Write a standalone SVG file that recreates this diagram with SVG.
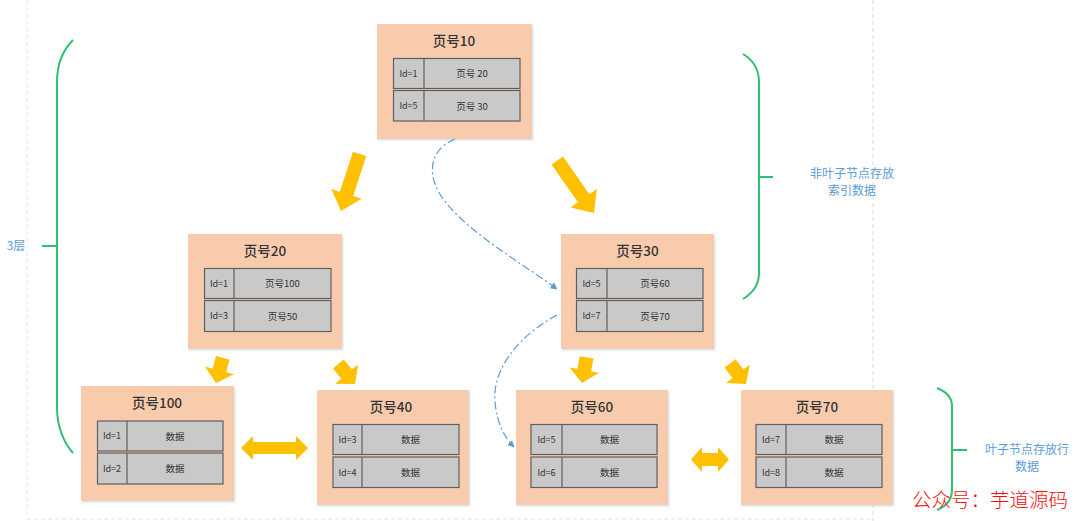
<svg xmlns="http://www.w3.org/2000/svg" width="1080" height="521" viewBox="0 0 1080 521">
<defs>
<style>
.box{fill:#F8CBAD;filter:url(#sh);}
.cell{fill:#C9C9C9;stroke:#5F5F5F;stroke-width:1.2;}
.t{font-family:"Noto Sans CJK SC","Liberation Sans",sans-serif;fill:#333;text-anchor:middle;}
.title{font-size:13.5px;font-weight:500;fill:#333;}
.id{font-size:9px;}
.val{font-size:9.5px;}
.ya{fill:#FFC000;}
.br{fill:none;stroke:#2EC26E;stroke-width:2;}
.lbl{font-family:"Noto Sans CJK SC","Liberation Sans",sans-serif;fill:#5B9BD5;font-size:12px;text-anchor:middle;}
.dl{fill:none;stroke:#5B9BD5;stroke-width:1.2;stroke-dasharray:8 3 2 3;}
</style>
<filter id="sh" x="-5%" y="-5%" width="110%" height="110%">
<feDropShadow dx="1" dy="1.2" stdDeviation="0.8" flood-color="#9fb6d0" flood-opacity="0.5"/>
</filter>
<marker id="ah" viewBox="0 0 10 10" refX="9" refY="5" markerWidth="7" markerHeight="7" orient="auto" markerUnits="userSpaceOnUse">
<path d="M0,0 L10,5 L0,10 Z" fill="#5B9BD5"/>
</marker>
<path id="chunk" d="M-7,-26 H7 V-13 H15 L0,0 L-15,-13 H-7 Z"/>
</defs>
<rect width="1080" height="521" fill="#fff"/>
<g id="frame" fill="none" stroke="#e6e6e6" stroke-width="1" stroke-dasharray="4 3">
<line x1="27" y1="0" x2="27" y2="519"/>
<line x1="27" y1="519" x2="873" y2="519"/>
<line x1="873" y1="0" x2="873" y2="521" stroke="#dcdcdc"/>
</g>

<g id="node-p10">
<rect class="box" x="377" y="24" width="155" height="115"/>
<text class="t title" x="454" y="46">页号10</text>
<rect class="cell" x="393.5" y="58.5" width="126.5" height="30"/>
<line x1="424" y1="58.5" x2="424" y2="88.5" stroke="#5F5F5F" stroke-width="1.2"/>
<rect class="cell" x="393.5" y="90.5" width="126.5" height="30.5"/>
<line x1="424" y1="90.5" x2="424" y2="121" stroke="#5F5F5F" stroke-width="1.2"/>
<text class="t id" x="408.5" y="76.5">Id=1</text>
<text class="t val" x="472" y="77">页号 20</text>
<text class="t id" x="408.5" y="109">Id=5</text>
<text class="t val" x="472" y="109.5">页号 30</text>
</g>

<g id="node-p20">
<rect class="box" x="188" y="234" width="154" height="115"/>
<text class="t title" x="265" y="256">页号20</text>
<rect class="cell" x="204.5" y="268.5" width="126.5" height="30"/>
<line x1="234" y1="268.5" x2="234" y2="298.5" stroke="#5F5F5F" stroke-width="1.2"/>
<rect class="cell" x="204.5" y="300.5" width="126.5" height="31"/>
<line x1="234" y1="300.5" x2="234" y2="331.5" stroke="#5F5F5F" stroke-width="1.2"/>
<text class="t id" x="219" y="286.5">Id=1</text>
<text class="t val" x="282.5" y="287">页号100</text>
<text class="t id" x="219" y="319">Id=3</text>
<text class="t val" x="282.5" y="319.5">页号50</text>
</g>

<g id="node-p30">
<rect class="box" x="561" y="234" width="153" height="115"/>
<text class="t title" x="637.5" y="256">页号30</text>
<rect class="cell" x="576.5" y="268.5" width="126.5" height="30"/>
<line x1="607" y1="268.5" x2="607" y2="298.5" stroke="#5F5F5F" stroke-width="1.2"/>
<rect class="cell" x="576.5" y="300.5" width="126.5" height="31"/>
<line x1="607" y1="300.5" x2="607" y2="331.5" stroke="#5F5F5F" stroke-width="1.2"/>
<text class="t id" x="591.5" y="286.5">Id=5</text>
<text class="t val" x="655" y="287">页号60</text>
<text class="t id" x="591.5" y="319">Id=7</text>
<text class="t val" x="655" y="319.5">页号70</text>
</g>

<g id="node-p100">
<rect class="box" x="81" y="386" width="153" height="115"/>
<text class="t title" x="157" y="408">页号100</text>
<rect class="cell" x="97.5" y="421" width="125.5" height="30"/>
<line x1="127" y1="421" x2="127" y2="451" stroke="#5F5F5F" stroke-width="1.2"/>
<rect class="cell" x="97.5" y="453" width="125.5" height="31"/>
<line x1="127" y1="453" x2="127" y2="484" stroke="#5F5F5F" stroke-width="1.2"/>
<text class="t id" x="112" y="439">Id=1</text>
<text class="t val" x="175" y="439.5">数据</text>
<text class="t id" x="112" y="471.5">Id=2</text>
<text class="t val" x="175" y="472">数据</text>
</g>

<g id="node-p40">
<rect class="box" x="317" y="390" width="152" height="115"/>
<text class="t title" x="391" y="412">页号40</text>
<rect class="cell" x="333" y="424.5" width="126" height="30"/>
<line x1="362" y1="424.5" x2="362" y2="454.5" stroke="#5F5F5F" stroke-width="1.2"/>
<rect class="cell" x="333" y="457" width="126" height="30.5"/>
<line x1="362" y1="457" x2="362" y2="487.5" stroke="#5F5F5F" stroke-width="1.2"/>
<text class="t id" x="347.5" y="442.5">Id=3</text>
<text class="t val" x="410.5" y="443">数据</text>
<text class="t id" x="347.5" y="475.5">Id=4</text>
<text class="t val" x="410.5" y="476">数据</text>
</g>

<g id="node-p60">
<rect class="box" x="516" y="390" width="152" height="115"/>
<text class="t title" x="592" y="412">页号60</text>
<rect class="cell" x="531" y="424.5" width="126" height="30"/>
<line x1="562" y1="424.5" x2="562" y2="454.5" stroke="#5F5F5F" stroke-width="1.2"/>
<rect class="cell" x="531" y="457" width="126" height="30.5"/>
<line x1="562" y1="457" x2="562" y2="487.5" stroke="#5F5F5F" stroke-width="1.2"/>
<text class="t id" x="546.5" y="442.5">Id=5</text>
<text class="t val" x="609.5" y="443">数据</text>
<text class="t id" x="546.5" y="475.5">Id=6</text>
<text class="t val" x="609.5" y="476">数据</text>
</g>

<g id="node-p70">
<rect class="box" x="741" y="390" width="152" height="115"/>
<text class="t title" x="817" y="412">页号70</text>
<rect class="cell" x="756" y="424.5" width="126" height="30"/>
<line x1="786" y1="424.5" x2="786" y2="454.5" stroke="#5F5F5F" stroke-width="1.2"/>
<rect class="cell" x="756" y="457" width="126" height="30.5"/>
<line x1="786" y1="457" x2="786" y2="487.5" stroke="#5F5F5F" stroke-width="1.2"/>
<text class="t id" x="771" y="442.5">Id=7</text>
<text class="t val" x="834" y="443">数据</text>
<text class="t id" x="771" y="475.5">Id=8</text>
<text class="t val" x="834" y="476">数据</text>
</g>

<g id="connectors">
<path class="ya" transform="translate(341,211) rotate(18)" d="M-7,-60 H7 V-18 H16 L0,0 L-16,-18 H-7 Z"/>
<path class="ya" transform="translate(594,213) rotate(-35)" d="M-7,-64 H7 V-18 H16 L0,0 L-16,-18 H-7 Z"/>
<use class="ya" href="#chunk" transform="translate(216,383) rotate(15)"/>
<use class="ya" href="#chunk" transform="translate(355,384) rotate(-40)"/>
<use class="ya" href="#chunk" transform="translate(582,383) rotate(10)"/>
<use class="ya" href="#chunk" transform="translate(746,384) rotate(-38)"/>
<path class="ya" d="M241,448 L253,436 V442 H296 V436 L308,448 L296,460 V454 H253 V460 Z"/>
<path class="ya" d="M691,459.5 L702,447 V453 H718 V447 L729,459.5 L718,472 V466 H702 V472 Z"/>
<path class="dl" marker-end="url(#ah)" d="M455,139 C428,150 425,178 447,204 C474,236 520,262 557,289"/>
<path class="dl" marker-end="url(#ah)" d="M557,315 C520,335 492,368 495,402 C497,424 505,438 514,447"/>
</g>

<g id="brace-levels">
<path class="br" d="M73,40 C63,50 57,65 57,82 V408 C57,425 63,442 73,453 M42,246 H57"/>
<text class="lbl" x="16" y="250" font-size="11">3层</text>
</g>
<g id="brace-nonleaf">
<path class="br" d="M743,54 C753,60 759,70 759,82 V273 C759,284 753,293 743,299 M759,177 H773"/>
<text class="lbl" x="852" y="178">非叶子节点存放</text>
<text class="lbl" x="852" y="195">索引数据</text>
</g>
<g id="brace-leaf">
<path class="br" d="M937,388 C947,392 952,398 952,406 V490 C952,500 947,506 937,510 M952,450 H967"/>
<text class="lbl" x="1027" y="454">叶子节点存放行</text>
<text class="lbl" x="1027" y="471">数据</text>
</g>

<text x="912" y="507" font-family="'Noto Sans CJK SC',sans-serif" font-size="19.5" font-weight="300" fill="#F01010">公众号：芋道源码</text>
</svg>
